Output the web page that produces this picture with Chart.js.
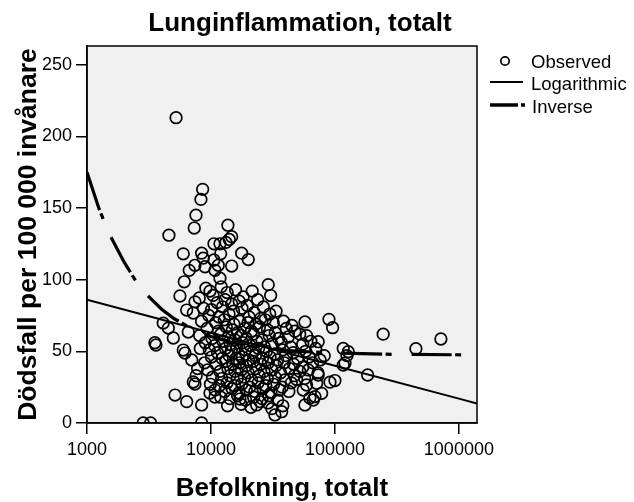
<!DOCTYPE html>
<html>
<head>
<meta charset="utf-8">
<script src="https://cdn.jsdelivr.net/npm/chart.js@4.4.0/dist/chart.umd.min.js"></script>
<style>
  html, body { margin: 0; padding: 0; background: #fff; }
  #wrap { width: 634px; height: 502px; position: relative; }
</style>
</head>
<body>
<div id="wrap"><canvas id="graf"></canvas></div>
<script>
// Kommuner: [befolkning, dödsfall per 100 000 invånare]
const observerade = [
  [5230, 213], [8570, 163], [8300, 156], [7570, 145], [7330, 136], [4580, 131], [13700, 138],
  [14690, 130], [14050, 128], [13210, 126], [11820, 125], [10570, 125], [5980, 118], [8410, 118.5],
  [8660, 115], [11970, 118], [17690, 118.5], [20000, 114], [7430, 110], [6680, 106.5], [10570, 113.7],
  [11450, 110], [14690, 109.5], [6090, 98.5], [5620, 88.6], [8950, 109], [10770, 106.5], [11820, 101],
  [9820, 92], [8050, 87.2], [7430, 84.5], [6370, 78.8], [7200, 76.7], [4120, 69.7], [4530, 66.2],
  [3530, 56], [3600, 54.4], [4970, 59.3], [5980, 50.9], [6170, 48.8], [6560, 63.5], [7200, 28.6],
  [7430, 27.2], [5130, 19.5], [6370, 14.9], [8410, 12.6], [9820, 20.9], [10770, 18.1], [2840, 0],
  [3260, 0], [8410, 0], [28970, 96.5], [30300, 88.9], [57300, 70.5], [59100, 60.9], [89500, 72.3],
  [95800, 66.5], [73300, 56.7], [116700, 52], [128000, 49.7], [120500, 41.8], [116700, 40.4],
  [125000, 47], [183600, 33.5], [100000, 29.6], [91200, 28.5], [73300, 33.5], [71200, 27.7],
  [49100, 30.4], [59100, 26.5], [55500, 23], [78200, 20.7], [69000, 18.4], [62800, 17.4],
  [57300, 12.6], [37200, 7.9], [32800, 5.6], [245000, 62], [450000, 51.8], [716000, 58.6],
  [17130, 16.7], [23370, 12.6], [24850, 14.9], [66800, 16],
  [7000, 44], [7800, 38], [8200, 52], [7600, 33],
  [9100, 94], [10400, 89], [12100, 95], [13500, 91], [15800, 93], [18200, 88], [21500, 92],
  [11200, 84], [13000, 86], [14700, 83], [16900, 85], [19600, 82], [23800, 86], [8700, 80],
  [10100, 79], [12400, 81], [15200, 78], [17800, 80], [22300, 77], [26500, 81], [29800, 76],
  [9600, 75], [11600, 74], [14000, 76], [20300, 74], [33500, 78], [25200, 73],
  [8400, 71], [10900, 70], [12800, 72], [15300, 69], [17100, 71], [19900, 70], [23100, 69],
  [27400, 72], [31800, 70], [38500, 71], [45000, 68],
  [9300, 66], [11500, 64], [13300, 67], [14900, 65], [16400, 63], [18700, 66], [21200, 64],
  [24600, 67], [28600, 65], [33000, 63], [40500, 66], [47600, 64],
  [8100, 61], [10200, 59], [12000, 62], [13800, 60], [15600, 58], [17500, 61], [19300, 59],
  [22000, 62], [25800, 58], [29500, 61], [35200, 59], [42000, 60], [52000, 62],
  [9000, 56], [10700, 54], [12500, 57], [14300, 55], [16100, 53], [18000, 56], [20700, 54],
  [23500, 57], [27000, 53], [31000, 55], [37000, 56], [44000, 53], [55000, 55], [64000, 57],
  [9700, 51], [11300, 49], [13100, 52], [14600, 50], [16700, 48], [18900, 51], [21600, 49],
  [24200, 52], [28000, 50], [32500, 48], [38000, 51], [46000, 49], [58000, 50], [70000, 52], [82000, 47],
  [10100, 46], [12300, 45], [14000, 47], [15900, 45], [17900, 46], [20200, 44], [22800, 47],
  [26000, 45], [30000, 46], [34500, 44], [40000, 47], [50000, 45], [62000, 46], [76000, 44],
  [8900, 42], [11000, 41], [13200, 43], [15000, 41], [17000, 42], [19400, 40], [22000, 43],
  [25200, 41], [29000, 42], [33500, 40], [39000, 42], [46500, 41], [55000, 39], [66000, 42],
  [9400, 37], [11800, 36], [13700, 38], [15600, 36], [17600, 37], [20000, 35], [23000, 38],
  [26800, 36], [31000, 37], [36500, 35], [43000, 38], [52000, 36], [61000, 37], [73000, 35],
  [10300, 32], [12200, 31], [14200, 33], [16300, 31], [18600, 32], [21300, 30], [24500, 33],
  [28500, 31], [33000, 32], [39500, 30], [47000, 33], [57000, 31],
  [9900, 27], [11700, 26], [13500, 28], [15500, 26], [17700, 27], [20500, 25], [24000, 28],
  [27700, 26], [32000, 27], [37500, 25], [44500, 28],
  [10800, 23], [12900, 22], [14800, 24], [16800, 21], [19300, 23], [22600, 22], [26300, 24],
  [30500, 21], [35800, 23], [42500, 22], [12000, 18], [14200, 17], [16400, 19], [19000, 16],
  [22100, 18], [25800, 17], [29300, 19], [34500, 16], [13600, 12], [17500, 13], [21000, 11],
  [28800, 14], [38000, 12], [31000, 10]
];

// Anpassade kurvor
const logBef = [1000, 10000, 100000, 1000000, 1400000];
const logVarde = [86, 63, 40, 17, 13.6];
const invBef = [1000, 1250, 1500, 2000, 2500, 3000, 4000, 5000, 7000, 10000, 15000, 20000, 30000, 50000, 100000, 300000, 1400000];
const invVarde = [175, 149.5, 132.5, 112, 98.5, 90, 79.4, 73, 65.7, 60.3, 56, 53.9, 51.8, 50, 48.8, 47.9, 47.5];

const xTicks = [1000, 10000, 100000, 1000000];
const yTicks = [0, 50, 100, 150, 200, 250];

const FONT = '"Liberation Sans", Arial, sans-serif';
const INV_DASH = [40, 3.5, 6, 20];

const rutor = {
  id: 'rutor',
  beforeDraw(chart) {
    const { ctx, chartArea: a } = chart;
    ctx.save();
    ctx.fillStyle = '#fff';
    ctx.fillRect(0, 0, chart.width, chart.height);
    ctx.fillStyle = '#f0f0f0';
    ctx.fillRect(a.left, a.top, a.right - a.left, a.bottom - a.top);
    ctx.restore();
  },
  afterDraw(chart) {
    const { ctx, chartArea: a } = chart;
    ctx.save();
    ctx.strokeStyle = '#000';
    ctx.lineWidth = 1.5;
    ctx.strokeRect(a.left, a.top, a.right - a.left, a.bottom - a.top);

    // rubrik
    ctx.fillStyle = '#000';
    ctx.font = 'bold 26px ' + FONT;
    ctx.textAlign = 'center';
    ctx.textBaseline = 'alphabetic';
    ctx.fillText('Lunginflammation, totalt', 300, 31);

    // teckenförklaring
    ctx.font = '18.5px ' + FONT;
    ctx.textAlign = 'left';
    ctx.lineWidth = 1.7;
    ctx.beginPath();
    ctx.arc(505, 61, 4.2, 0, Math.PI * 2);
    ctx.stroke();
    ctx.fillText('Observed', 531, 68);

    ctx.lineWidth = 2;
    ctx.beginPath();
    ctx.moveTo(490, 82);
    ctx.lineTo(523, 82);
    ctx.stroke();
    ctx.fillText('Logarithmic', 531, 89.5);

    ctx.lineWidth = 3.4;
    ctx.setLineDash([28, 3, 4, 20]);
    ctx.beginPath();
    ctx.moveTo(490, 105);
    ctx.lineTo(525, 105);
    ctx.stroke();
    ctx.setLineDash([]);
    ctx.fillText('Inverse', 532, 112.5);
    ctx.restore();
  }
};

new Chart(document.getElementById('graf'), {
  type: 'scatter',
  data: {
    datasets: [
      {
        label: 'Logarithmic',
        data: logBef.map((x, i) => ({ x, y: logVarde[i] })),
        showLine: true,
        borderColor: '#000',
        borderWidth: 2,
        pointRadius: 0,
        tension: 0,
        order: 0
      },
      {
        label: 'Inverse',
        data: invBef.map((x, i) => ({ x, y: invVarde[i] })),
        showLine: true,
        borderColor: '#000',
        borderWidth: 3.2,
        borderDash: INV_DASH,
        borderCapStyle: 'butt',
        pointRadius: 0,
        tension: 0,
        order: 0
      },
      {
        label: 'Observed',
        data: observerade.map(([x, y]) => ({ x, y })),
        pointRadius: 5.8,
        pointBorderWidth: 1.7,
        pointBorderColor: '#000',
        pointBackgroundColor: 'rgba(0,0,0,0)',
        order: 1
      }
    ]
  },
  options: {
    responsive: true,
    maintainAspectRatio: false,
    animation: false,
    layout: { padding: { top: 46, right: 157, bottom: 0, left: 0 } },
    plugins: { legend: { display: false }, tooltip: { enabled: false } },
    scales: {
      x: {
        type: 'logarithmic',
        min: 1000,
        max: 1400000,
        afterFit(scale) { scale.height = 79; },
        afterBuildTicks(scale) { scale.ticks = xTicks.map(v => ({ value: v })); },
        ticks: {
          color: '#000',
          font: { family: FONT, size: 18 },
          padding: 5,
          maxRotation: 0,
          autoSkip: false,
          callback: v => String(v)
        },
        grid: { drawOnChartArea: false, drawTicks: true, tickLength: 11, color: '#000', lineWidth: 1.5 },
        border: { display: true, color: '#000', width: 1.5 },
        title: {
          display: true,
          text: 'Befolkning, totalt',
          color: '#000',
          font: { family: FONT, size: 26, weight: 'bold', lineHeight: 1 },
          padding: { top: 0, bottom: 0 }
        }
      },
      y: {
        min: 0,
        max: 263,
        afterFit(scale) { scale.width = 87; },
        afterBuildTicks(scale) { scale.ticks = yTicks.map(v => ({ value: v })); },
        ticks: {
          color: '#000',
          font: { family: FONT, size: 18 },
          padding: 4
        },
        grid: { drawOnChartArea: false, drawTicks: true, tickLength: 11, color: '#000', lineWidth: 1.5 },
        border: { display: true, color: '#000', width: 1.5 },
        title: {
          display: true,
          text: 'Dödsfall per 100 000 invånare',
          color: '#000',
          font: { family: FONT, size: 26.5, weight: 'bold', lineHeight: 1 },
          padding: { top: 15, bottom: 0 }
        }
      }
    }
  },
  plugins: [rutor]
});
</script>
</body>
</html>
